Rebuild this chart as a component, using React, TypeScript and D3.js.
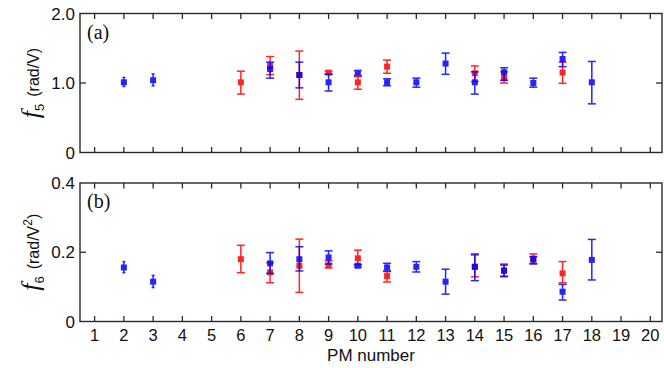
import React from "react";
import * as d3 from "d3";

// PM numbers (x ticks)
const pmTicks = d3.range(1, 21);

// Panel (a): f5 (rad/V)
const blueF5Pm = [2, 3, 7, 8, 9, 10, 11, 12, 13, 14, 15, 16, 17, 18];
const blueF5 = [1.01, 1.04, 1.2, 1.115, 1.01, 1.145, 1.01, 1.01, 1.28, 1.01, 1.155, 1.0, 1.345, 1.01];
const blueF5Hi = [1.08, 1.13, 1.3, 1.3, 1.125, 1.18, 1.06, 1.07, 1.43, 1.16, 1.22, 1.07, 1.44, 1.31];
const blueF5Lo = [0.95, 0.96, 1.07, 0.93, 0.885, 1.11, 0.96, 0.94, 1.125, 0.84, 1.04, 0.94, 1.235, 0.7];

const redF5Pm = [6, 7, 8, 9, 10, 11, 14, 15, 17];
const redF5 = [1.01, 1.245, 1.115, 1.15, 1.01, 1.235, 1.14, 1.07, 1.15];
const redF5Hi = [1.17, 1.38, 1.46, 1.17, 1.09, 1.33, 1.245, 1.16, 1.3];
const redF5Lo = [0.84, 1.12, 0.765, 1.13, 0.91, 1.14, 1.02, 1.0, 0.995];

// Panel (b): f6 (rad/V^2)
const blueF6Pm = [2, 3, 7, 8, 9, 10, 11, 12, 13, 14, 15, 16, 17, 18];
const blueF6 = [0.156, 0.115, 0.168, 0.18, 0.185, 0.161, 0.156, 0.158, 0.115, 0.158, 0.147, 0.179, 0.086, 0.178];
const blueF6Hi = [0.173, 0.133, 0.199, 0.216, 0.204, 0.165, 0.168, 0.173, 0.151, 0.195, 0.163, 0.187, 0.107, 0.237];
const blueF6Lo = [0.141, 0.098, 0.139, 0.146, 0.166, 0.157, 0.146, 0.143, 0.079, 0.118, 0.131, 0.166, 0.062, 0.12];

const redF6Pm = [6, 7, 8, 9, 10, 11, 14, 15, 16, 17];
const redF6 = [0.18, 0.142, 0.161, 0.162, 0.1825, 0.131, 0.158, 0.147, 0.182, 0.139];
const redF6Hi = [0.22, 0.17, 0.238, 0.175, 0.206, 0.144, 0.192, 0.166, 0.195, 0.173];
const redF6Lo = [0.141, 0.112, 0.084, 0.155, 0.163, 0.114, 0.129, 0.129, 0.168, 0.112];

const f5Ticks = [0, 1, 2];
const f5TickLabels = ["0", "1.0", "2.0"];
const f6Ticks = [0, 0.2, 0.4];
const f6TickLabels = ["0", "0.2", "0.4"];

const W = 664;
const H = 368;
const BLUE = "#0000ff";
const RED = "#ff0000";
const AXIS = "#2a2a2a";
const TEXT = "#111";
const SANS = "'Liberation Sans', Arial, Helvetica, sans-serif";
const SERIF = "'Liberation Serif', 'Times New Roman', serif";

const x = d3.scaleLinear().domain([0.5, 20.4]).range([80, 662]);
const y1 = d3.scaleLinear().domain([0, 2]).range([152.5, 13.5]);
const y2 = d3.scaleLinear().domain([0, 0.4]).range([321.5, 183]);

type Pt = { pm: number; v: number; hi: number; lo: number };
const zip = (pm: number[], v: number[], hi: number[], lo: number[]): Pt[] =>
  pm.map((p, i) => ({ pm: p, v: v[i], hi: hi[i], lo: lo[i] }));

function Series({ data, y, color, cap }: { data: Pt[]; y: d3.ScaleLinear<number, number>; color: string; cap: number }) {
  return (
    <g opacity={0.85}>
      {data.map((d, i) => {
        const cx = x(d.pm);
        const cw = d.pm <= 3 ? 1.5 : cap;
        return (
          <g key={i}>
            <line x1={cx} x2={cx} y1={y(d.hi)} y2={y(d.lo)} stroke={color} strokeWidth={1.5} />
            <line x1={cx - cw} x2={cx + cw} y1={y(d.hi)} y2={y(d.hi)} stroke={color} strokeWidth={1.5} />
            <line x1={cx - cw} x2={cx + cw} y1={y(d.lo)} y2={y(d.lo)} stroke={color} strokeWidth={1.5} />
            <rect x={cx - 3} y={y(d.v) - 3} width={6} height={6} fill={color} />
          </g>
        );
      })}
    </g>
  );
}

function Panel({
  y,
  ticks,
  labels,
  midTick,
  label,
}: {
  y: d3.ScaleLinear<number, number>;
  ticks: number[];
  labels: string[];
  midTick: number;
  label: string;
}) {
  const [top, bottom] = [y.range()[1], y.range()[0]];
  const [left, right] = x.range();
  return (
    <g>
      <rect x={left} y={top} width={right - left} height={bottom - top} fill="none" stroke={AXIS} strokeWidth={1.4} />
      {pmTicks.map((t) => (
        <g key={t}>
          <line x1={x(t)} x2={x(t)} y1={top} y2={top + 5.5} stroke={AXIS} strokeWidth={1.3} />
          <line x1={x(t)} x2={x(t)} y1={bottom} y2={bottom - 5.5} stroke={AXIS} strokeWidth={1.3} />
        </g>
      ))}
      <line x1={left} x2={left + 6} y1={y(midTick)} y2={y(midTick)} stroke={AXIS} strokeWidth={1.3} />
      <line x1={right} x2={right - 6} y1={y(midTick)} y2={y(midTick)} stroke={AXIS} strokeWidth={1.3} />
      {ticks.map((t, i) => (
        <text key={t} x={left - 5} y={y(t) + 6} textAnchor="end" fontSize={17} fontFamily={SANS} fill={TEXT}>
          {labels[i]}
        </text>
      ))}
      <text x={left + 7} y={top + 25} fontSize={20} fontFamily={SERIF} fill={TEXT}>
        {label}
      </text>
    </g>
  );
}

export default function App() {
  const topMid = (y1.range()[0] + y1.range()[1]) / 2;
  const botMid = (y2.range()[0] + y2.range()[1]) / 2;
  return (
    <svg
      width={W}
      height={H}
      viewBox={`0 0 ${W} ${H}`}
      style={{ position: "absolute", left: 0, top: 0, background: "#fff" }}
    >
      <rect width={W} height={H} fill="#fff" />
      <Panel y={y1} ticks={f5Ticks} labels={f5TickLabels} midTick={1} label="(a)" />
      <Panel y={y2} ticks={f6Ticks} labels={f6TickLabels} midTick={0.2} label="(b)" />

      <Series data={zip(redF5Pm, redF5, redF5Hi, redF5Lo)} y={y1} color={RED} cap={4} />
      <Series data={zip(blueF5Pm, blueF5, blueF5Hi, blueF5Lo)} y={y1} color={BLUE} cap={4} />
      <Series data={zip(redF6Pm, redF6, redF6Hi, redF6Lo)} y={y2} color={RED} cap={4} />
      <Series data={zip(blueF6Pm, blueF6, blueF6Hi, blueF6Lo)} y={y2} color={BLUE} cap={4} />

      {pmTicks.map((t) => (
        <text key={t} x={x(t)} y={341} textAnchor="middle" fontSize={16.5} fontFamily={SANS} fill={TEXT}>
          {t}
        </text>
      ))}
      <text x={x(10.45)} y={361} textAnchor="middle" fontSize={17} fontFamily={SANS} fill={TEXT}>
        PM number
      </text>

      <g transform={`translate(39, ${topMid}) rotate(-90)`}>
        <text textAnchor="middle" fill={TEXT} fontFamily={SANS} fontSize={16}>
          <tspan fontFamily={SERIF} fontStyle="italic" fontSize={26}>f</tspan>
          <tspan fontSize={13} dy={5}>5</tspan>
          <tspan fontSize={16} dy={-5} dx={7}>(rad/V)</tspan>
        </text>
      </g>
      <g transform={`translate(39, ${botMid}) rotate(-90)`}>
        <text textAnchor="middle" fill={TEXT} fontFamily={SANS} fontSize={16}>
          <tspan fontFamily={SERIF} fontStyle="italic" fontSize={26}>f</tspan>
          <tspan fontSize={13} dy={5}>6</tspan>
          <tspan fontSize={16} dy={-5} dx={7}>(rad/V</tspan>
          <tspan fontSize={12} dy={-7}>2</tspan>
          <tspan fontSize={16} dy={7}>)</tspan>
        </text>
      </g>
    </svg>
  );
}
